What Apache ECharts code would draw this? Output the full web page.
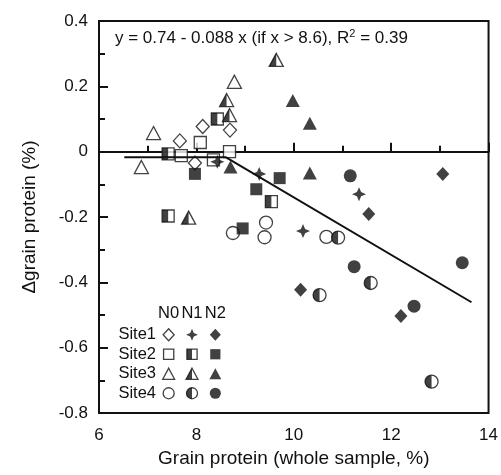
<!DOCTYPE html>
<html>
<head>
<meta charset="utf-8">
<script src="https://cdn.jsdelivr.net/npm/echarts@6/dist/echarts.min.js"></script>
<style>
  html, body { margin: 0; padding: 0; background: #fff; }
  #chart { width: 501px; height: 475px; }
</style>
</head>
<body>
<div id="chart"></div>
<script>
// [grain protein of whole sample (%), change in grain protein (%)]
const site1N0 = [[7.66, 0.033], [8.13, 0.077], [8.69, 0.066], [7.97, -0.035]];
const site1N1 = [[8.43, -0.031], [9.29, -0.068], [10.19, -0.243], [11.34, -0.130]];
const site1N2 = [[11.54, -0.191], [13.06, -0.068], [12.20, -0.503], [10.14, -0.423]];

const site2N0 = [[8.08, 0.028], [7.69, -0.012], [8.68, 0.0], [8.35, -0.025]];
const site2N1 = [[7.42, -0.007], [8.43, 0.100], [7.42, -0.197], [9.54, -0.153]];
const site2N2 = [[7.97, -0.068], [9.23, -0.115], [9.71, -0.081], [8.95, -0.235]];

const site3N0 = [[7.12, 0.057], [6.87, -0.047], [8.78, 0.214]];
const site3N1 = [[9.64, 0.281], [8.62, 0.158], [8.68, 0.112], [7.84, -0.202]];
const site3N2 = [[9.98, 0.157], [10.33, 0.087], [10.33, -0.065], [8.70, -0.047]];

const site4N0 = [[8.75, -0.249], [9.43, -0.217], [9.40, -0.262], [10.67, -0.261]];
const site4N1 = [[10.91, -0.263], [11.58, -0.402], [12.83, -0.704], [10.53, -0.439]];
const site4N2 = [[11.16, -0.074], [11.24, -0.352], [12.47, -0.473], [13.46, -0.340]];

// broken-stick fit: flat, then y = 0.74 - 0.088 x for x > 8.6
const fitLineX = [6.52, 8.6, 13.65];
const fitLineY = [-0.017, -0.017, -0.461];

const nLevels = ['N0', 'N1', 'N2'];
const siteNames = ['Site1', 'Site2', 'Site3', 'Site4'];

const groups = [
  [site1N0, site1N1, site1N2],
  [site2N0, site2N1, site2N2],
  [site3N0, site3N1, site3N2],
  [site4N0, site4N1, site4N2]
];

const FONT = '"Liberation Sans", Arial, sans-serif';
const INK = '#111';

const STAR = 'path://M5,0 L6.5,3.5 L10,5 L6.5,6.5 L5,10 L3.5,6.5 L0,5 L3.5,3.5 Z';
// left half of each shape, laid over the open shape
const HALF = {
  rect: 'path://M0,0 L5,0 L5,10 L0,10 Z',
  triangle: 'path://M5,0 L5,10 L0,10 Z',
  circle: 'path://M5,0 C2.24,0 0,2.24 0,5 C0,7.76 2.24,10 5,10 Z'
};
const siteShapes = [
  { symbol: 'diamond', size: [13, 14] },
  { symbol: 'rect', size: [12, 12] },
  { symbol: 'triangle', size: [14, 13] },
  { symbol: 'circle', size: [13, 13] }
];

function groupSeries(data, site, level, onLegend) {
  const k = onLegend ? 0.85 : 1;
  const shape = siteShapes[site];
  const size = shape.size.map(v => v * k);
  const idx = onLegend ? 1 : 0;
  const base = {
    type: 'scatter', xAxisIndex: idx, yAxisIndex: idx, data: data,
    symbol: shape.symbol, symbolSize: size, silent: true, z: 3
  };
  const open = { color: '#fff', borderColor: INK, borderWidth: 1.3 };
  if (level === 0) return [{ ...base, itemStyle: open }];
  if (level === 2) return [{ ...base, itemStyle: { color: INK } }];
  if (site === 0) return [{ ...base, symbol: STAR, symbolSize: [14 * k, 14 * k], itemStyle: { color: INK } }];
  return [
    { ...base, itemStyle: open },
    { ...base, symbol: HALF[shape.symbol], symbolSize: [size[0] / 2, size[1]], symbolOffset: ['-50%', 0], itemStyle: { color: INK } }
  ];
}

const series = [];
// N0 first, then N1, then N2 so the filled marks sit on top
for (let level = 0; level < 3; level++) {
  for (let site = 0; site < 4; site++) {
    series.push(...groupSeries(groups[site][level], site, level, false));
    series.push(...groupSeries([[nLevels[level], siteNames[site]]], site, level, true));
  }
}
series.push({
  type: 'line', xAxisIndex: 0, yAxisIndex: 0, silent: true, z: 4,
  data: fitLineX.map((x, i) => [x, fitLineY[i]]),
  symbol: 'none', lineStyle: { color: INK, width: 2 }
});

const tickStyle = { color: INK, width: 2 };
const chart = echarts.init(document.getElementById('chart'));
chart.setOption({
  animation: false,
  textStyle: { fontFamily: FONT },
  grid: [
    { left: 99, top: 21, width: 392, height: 392, show: true, borderColor: INK, borderWidth: 2 },
    { left: 157, top: 325, width: 70, height: 78 }
  ],
  xAxis: [
    {
      type: 'value', gridIndex: 0, min: 6, max: 14, interval: 2,
      name: 'Grain protein (whole sample, %)', nameLocation: 'middle', nameGap: 34,
      nameTextStyle: { fontSize: 19, color: INK, fontFamily: FONT },
      axisLine: { lineStyle: { color: INK, width: 2 } },
      axisTick: { inside: true, length: 9, lineStyle: tickStyle },
      minorTick: { show: true, splitNumber: 2, length: 6, lineStyle: tickStyle },
      axisLabel: { fontSize: 17, color: INK, margin: 14, fontFamily: FONT },
      splitLine: { show: false }
    },
    {
      type: 'category', gridIndex: 1, data: nLevels, position: 'top',
      axisLine: { show: false }, axisTick: { show: false }, splitLine: { show: false },
      axisLabel: { interval: 0, fontSize: 16.5, color: INK, margin: 3, fontFamily: FONT }
    }
  ],
  yAxis: [
    {
      type: 'value', gridIndex: 0, min: -0.8, max: 0.4, interval: 0.2,
      name: 'Δgrain protein (%)', nameLocation: 'middle', nameGap: 60,
      nameTextStyle: { fontSize: 19, color: INK, fontFamily: FONT },
      axisLine: { lineStyle: { color: INK, width: 2 } },
      axisTick: { inside: true, length: 9, lineStyle: tickStyle },
      minorTick: { show: true, splitNumber: 2, length: 6, lineStyle: tickStyle },
      axisLabel: { fontSize: 17, color: INK, margin: 11, fontFamily: FONT },
      splitLine: { show: false }
    },
    {
      type: 'category', gridIndex: 1, data: siteNames, inverse: true,
      axisLine: { show: false }, axisTick: { show: false }, splitLine: { show: false },
      axisLabel: { interval: 0, fontSize: 16.5, color: INK, margin: 1, fontFamily: FONT }
    }
  ],
  graphic: [{
    type: 'text', left: 115, top: 28, silent: true,
    style: {
      text: 'y = 0.74 - 0.088 x (if x > 8.6), R{sup|2} = 0.39',
      fontSize: 17, fontFamily: FONT, fill: INK, lineHeight: 20,
      rich: { sup: { fontSize: 11, fontFamily: FONT, fill: INK, verticalAlign: 'top', lineHeight: 20 } }
    }
  }],
  series: series
});
</script>
</body>
</html>
